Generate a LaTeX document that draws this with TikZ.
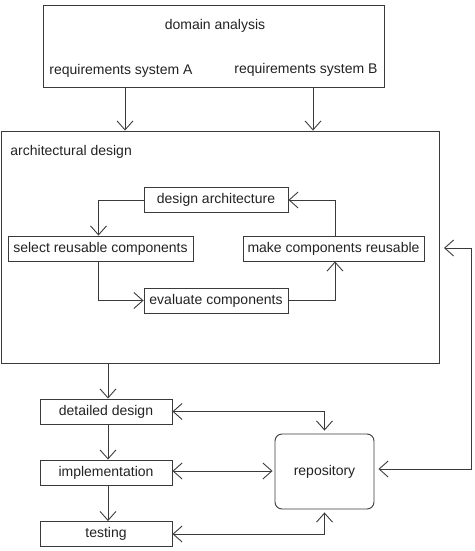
\documentclass[tikz,border=0pt]{standalone}
\usepackage{fontspec}
\setmainfont{Liberation Sans}
\usetikzlibrary{arrows.meta}
\definecolor{linegray}{HTML}{3A3A3A}
\definecolor{textgray}{HTML}{222222}
\begin{document}
\begin{tikzpicture}[
    x=1pt, y=-1pt,
    line width=0.9pt,
    font=\fontsize{14}{16}\selectfont,
    every node/.style={text=textgray},
    box/.style={rectangle, draw=linegray, minimum height=25pt, inner sep=2pt},
    bigbox/.style={rectangle, draw=linegray},
    label/.style={inner sep=0pt},
    arrow/.style={-{Straight Barb[length=9pt,width=16pt]}, draw=linegray},
    twoway/.style={{Straight Barb[length=9pt,width=16pt]}-{Straight Barb[length=9pt,width=16pt]}, draw=linegray}
]
\useasboundingbox (0,0) rectangle (474,551);

% domain analysis
\node[bigbox, minimum width=341pt, minimum height=82pt] (domainbox) at (213.5,46) {};
\node[label] (domain) at (215,26) {domain analysis};
\node[label] (reqA) at (121,71) {requirements system A};
\node[label] (reqB) at (306,70) {requirements system B};

% architectural design
\node[bigbox, minimum width=438pt, minimum height=232pt] (arch) at (220.5,247) {};
\node[label, anchor=west] (archtitle) at (10,152) {architectural design};
\node[box, minimum width=144pt] (design) at (216,200) {design architecture};
\node[box, minimum width=185pt] (select) at (100.5,248.5) {select reusable components};
\node[box, minimum width=181pt] (make) at (333.5,248.5) {make components reusable};
\node[box, minimum width=144pt] (evaluate) at (216,300.5) {evaluate components};

% development
\node[box, minimum width=132pt] (detailed) at (106,411.5) {detailed design};
\node[box, minimum width=132pt] (impl) at (106,472.5) {implementation};
\node[box, minimum width=132pt] (testing) at (106,534) {testing};
\node[box, rounded corners=7pt, minimum width=99pt, minimum height=75pt] (repo) at (324.5,471.5) {repository};
\coordinate (loop) at (471,248);

% Arrows
\draw[arrow] ([xshift=4pt]reqA |- domainbox.south) -- ([xshift=4pt]reqA |- arch.north);
\draw[arrow] ([xshift=7pt]reqB |- domainbox.south) -- ([xshift=7pt]reqB |- arch.north);
\draw[arrow] (design.west) -| ([xshift=-2pt]select.north);
\draw[arrow] ([xshift=-2pt]select.south) |- (evaluate.west);
\draw[arrow] (evaluate.east) -| ([xshift=1.5pt]make.south);
\draw[arrow] ([xshift=1.5pt]make.north) |- (design.east);
\draw[twoway, shorten <=4pt, shorten >=4pt] (arch.east |- loop) -- (loop) |- ([yshift=2.5pt]repo.east);
\draw[arrow] ([xshift=2pt]arch.south -| detailed) -- ([xshift=2pt]detailed.north);
\draw[arrow] ([xshift=2pt]detailed.south) -- ([xshift=2pt]impl.north);
\draw[arrow] ([xshift=2pt]impl.south) -- ([xshift=2pt]testing.north);
\draw[twoway, shorten >=3pt] (detailed.east) -| (repo.north);
\draw[twoway, shorten >=2pt] ([yshift=1.5pt]impl.east) -- ([yshift=1.5pt]impl.east -| repo.west);
\draw[twoway, shorten >=3pt] (testing.east) -| (repo.south);

\end{tikzpicture}
\end{document}
